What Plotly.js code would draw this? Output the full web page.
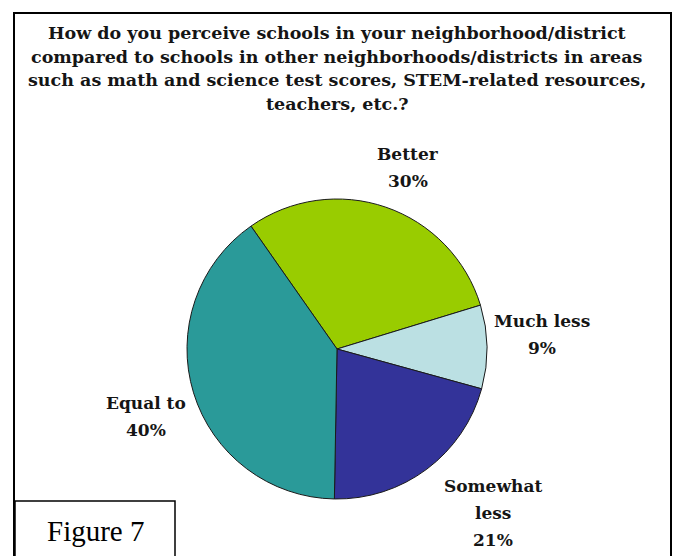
<!DOCTYPE html>
<html>
<head>
<meta charset="utf-8">
<script src="https://cdn.plot.ly/plotly-3.0.1.min.js"></script>
<style>html,body{margin:0;padding:0;background:#fff;}#chart{width:674px;height:556px;}</style>
</head>
<body>
<div id="chart"></div>
<script>
const categories = ["Better", "Much less", "Somewhat less", "Equal to"];
const values = [30, 9, 21, 40];
const sliceColors = ["#99CC00", "#BBE0E3", "#333399", "#2A9A99"];
const labelLines = [["Better", "30%"], ["Much less", "9%"], ["Somewhat", "less", "21%"], ["Equal to", "40%"]];
const titleLines = [
  "How do you perceive schools in your neighborhood/district",
  "compared to schools in other neighborhoods/districts in areas",
  "such as math and science test scores, STEM-related resources,",
  "teachers, etc.?"
];
const figureLabel = "Figure 7";

const W = 674, H = 556;
const px = x => x / W;
const py = y => 1 - y / H;

const serifBold = "DejaVu Serif, Georgia, serif";
const serif = "Liberation Serif, Times New Roman, serif";

// label anchor: center x and first line y (pixels)
const labelPos = [[408, 154], [542, 321], [493, 486], [146, 403]];
const lineGap = 27;

const annotations = [];
labelLines.forEach((lines, i) => {
  lines.forEach((t, j) => {
    annotations.push({
      x: px(labelPos[i][0]), y: py(labelPos[i][1] + j * lineGap), xref: "paper", yref: "paper",
      text: "<b>" + t + "</b>", showarrow: false, xanchor: "center", yanchor: "middle",
      font: {family: serifBold, size: 17, color: "#151515"}
    });
  });
});
titleLines.forEach((t, j) => {
  annotations.push({
    x: 0.5, y: py(33 + j * 23.5), xref: "paper", yref: "paper",
    text: "<b>" + t + "</b>", showarrow: false, xanchor: "center", yanchor: "middle",
    font: {family: serifBold, size: 17.5, color: "#151515"}
  });
});
annotations.push({
  x: px(95), y: py(531), xref: "paper", yref: "paper", text: figureLabel,
  showarrow: false, xanchor: "center", yanchor: "middle",
  font: {family: serif, size: 29, color: "#000"}
});

const data = [{
  type: "pie",
  labels: categories,
  values: values,
  sort: false,
  direction: "clockwise",
  rotation: -35,
  marker: {colors: sliceColors, line: {color: "#1a1a1a", width: 1}},
  textinfo: "none",
  hoverinfo: "label+percent",
  showlegend: false,
  domain: {x: [px(187), px(487)], y: [py(500), py(198)]}
}];

const layout = {
  width: W, height: H,
  margin: {l: 0, r: 0, t: 0, b: 0},
  paper_bgcolor: "#fff",
  shapes: [
    {type: "rect", xref: "paper", yref: "paper", x0: px(14), x1: px(671), y0: py(570), y1: py(13),
     line: {color: "#000", width: 2}, fillcolor: "rgba(0,0,0,0)"},
    {type: "rect", xref: "paper", yref: "paper", x0: px(15), x1: px(175), y0: py(570), y1: py(501),
     line: {color: "#000", width: 1.5}, fillcolor: "#fff"}
  ],
  annotations: annotations
};

Plotly.newPlot("chart", data, layout, {displayModeBar: false});
</script>
</body>
</html>
